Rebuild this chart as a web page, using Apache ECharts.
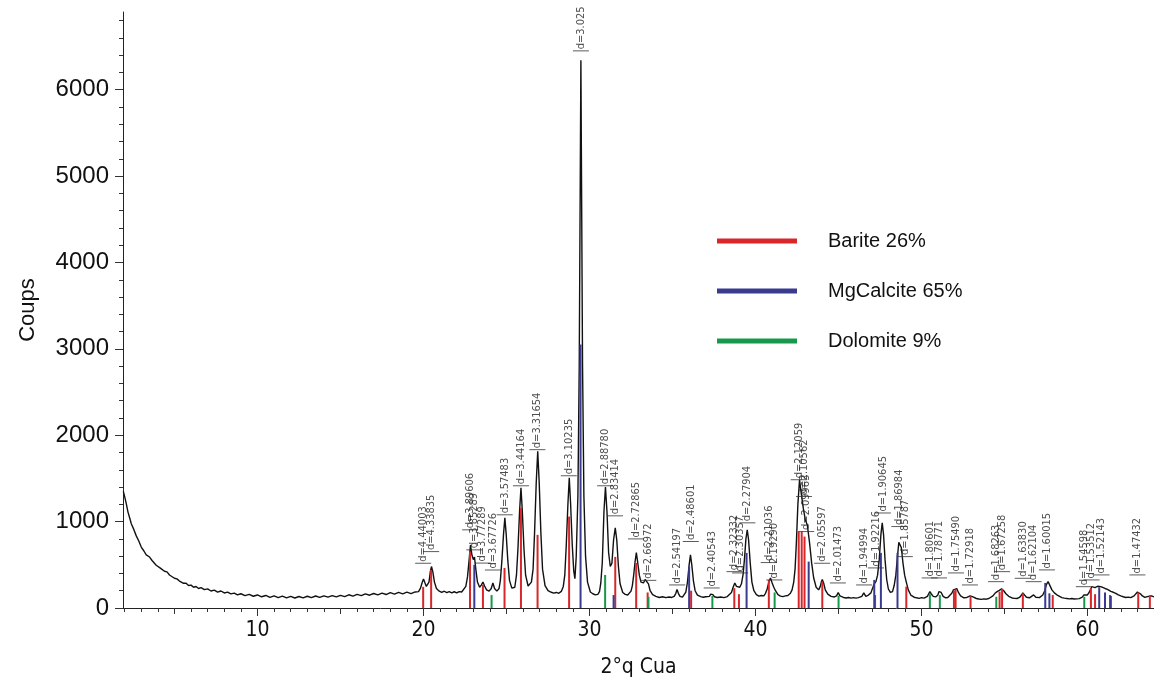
<!DOCTYPE html>
<html>
<head>
<meta charset="utf-8">
<script src="https://cdn.jsdelivr.net/npm/echarts@6/dist/echarts.min.js"></script>
<style>html,body{margin:0;padding:0;background:#fff}#c{width:1154px;height:686px}</style>
</head>
<body>
<div id="c"></div>
<script>
// measured pattern: [2theta, counts]
const profile = [
 [1.92,1350],[2.0,1290],[2.1,1205],[2.2,1110],[2.3,1045],[2.4,975],[2.55,910],[2.7,835],[2.85,775],[3.0,705],[3.16,660],[3.3,615],[3.5,590],[3.65,550],[3.75,530],[3.9,495],[4.0,492],[4.15,462],[4.25,455],[4.4,425],[4.55,418],[4.7,382],[4.8,383],[5.0,344],[5.15,337],[5.3,312],[5.4,308],[5.55,286],[5.7,287],[5.85,260],[6.0,265],[6.15,240],[6.3,249],[6.45,226],[6.6,236],[6.8,212],[7.0,221],[7.2,197],[7.4,207],[7.6,184],[7.8,197],[8.0,174],[8.2,183],[8.4,164],[8.6,173],[8.8,152],[9.0,165],[9.25,144],[9.5,157],[9.75,136],[10.0,151],[10.25,130],[10.5,145],[10.75,124],[11.0,141],[11.25,121],[11.5,137],[11.75,118],[12.0,135],[12.25,116],[12.5,133],[12.75,118],[13.0,136],[13.25,120],[13.5,139],[13.75,122],[14.0,141],[14.25,125],[14.5,144],[14.75,128],[15.0,147],[15.25,132],[15.5,153],[15.75,137],[16.0,157],[16.25,143],[16.5,163],[16.75,148],[17.0,168],[17.25,152],[17.5,172],[17.75,156],[18.0,177],[18.25,160],[18.5,180],[18.75,164],[19.0,183],[19.25,166],[19.5,186],[19.6,176],
 [19.7,190],[19.82,230],[19.92,295],[20.0,336],[20.08,295],[20.17,250],[20.25,245],[20.33,300],[20.41,420],[20.48,480],[20.56,420],[20.66,300],[20.78,225],[20.95,195],
 [21.1,180],[21.25,194],[21.4,178],[21.55,190],[21.7,176],[21.85,188],[22.0,175],[22.15,190],[22.3,185],
 [22.4,200],[22.55,250],[22.65,360],[22.75,560],[22.83,730],[22.92,610],[23.0,560],[23.07,590],[23.15,450],[23.25,300],[23.38,240],
 [23.48,265],[23.58,300],[23.68,255],[23.8,210],[23.95,195],
 [24.08,225],[24.18,290],[24.28,225],[24.42,195],
 [24.55,225],[24.63,320],[24.72,545],[24.82,855],[24.9,1044],[24.98,855],[25.08,545],[25.18,320],[25.32,230],
 [25.5,240],[25.6,380],[25.69,690],[25.79,1130],[25.87,1392],[25.95,1130],[26.05,690],[26.15,380],[26.3,255],[26.42,250],
 [26.5,300],[26.6,450],[26.69,870],[26.79,1450],[26.88,1813],[26.97,1450],[27.07,870],[27.17,450],[27.32,260],[27.5,200],[27.7,182],[27.85,172],[28.0,180],[28.15,170],[28.3,192],
 [28.42,250],[28.51,380],[28.6,730],[28.7,1210],[28.78,1508],[28.86,1210],[28.96,730],[29.05,430],[29.12,340],
 [29.2,600],[29.3,1300],[29.38,2800],[29.44,4900],[29.48,6340],[29.52,4900],[29.58,2800],[29.66,1300],[29.76,600],[29.88,300],[30.05,185],[30.2,165],[30.35,152],[30.5,158],
 [30.6,190],[30.68,290],[30.77,530],[30.87,1120],[30.96,1400],[31.05,1120],[31.15,640],[31.25,480],
 [31.35,520],[31.45,790],[31.55,928],[31.64,790],[31.74,480],[31.84,280],[32.0,180],[32.15,158],[32.3,150],[32.42,160],
 [32.5,195],[32.58,260],[32.66,380],[32.74,530],[32.82,640],[32.9,530],[33.0,380],[33.1,300],
 [33.25,290],[33.35,330],[33.45,340],[33.55,280],[33.65,200],[33.8,155],[34.0,135],[34.2,122],[34.4,130],[34.6,120],[34.8,128],[34.95,122],
 [35.1,135],[35.2,170],[35.27,215],[35.35,170],[35.45,135],[35.6,126],
 [35.72,145],[35.8,185],[35.9,300],[36.0,500],[36.08,615],[36.16,500],[36.26,310],[36.36,200],[36.5,150],[36.7,132],[36.85,124],[37.0,130],[37.12,122],
 [37.22,135],[37.3,160],[37.36,178],[37.43,155],[37.52,130],[37.7,122],[37.9,128],[38.1,120],[38.3,132],[38.42,145],
 [38.55,180],[38.65,240],[38.75,290],[38.85,250],[38.95,235],[39.05,240],[39.15,280],
 [39.25,390],[39.33,560],[39.42,800],[39.5,905],[39.58,790],[39.68,520],[39.78,300],[39.9,200],[40.05,155],[40.2,138],[40.35,145],[40.5,140],
 [40.6,170],[40.7,220],[40.8,300],[40.9,348],[41.0,290],[41.1,240],[41.2,200],[41.35,155],[41.5,138],[41.65,132],[41.8,140],[41.95,145],[42.1,170],
 [42.2,210],[42.3,300],[42.38,450],[42.46,760],[42.55,1200],[42.65,1485],[42.75,1330],[42.88,1150],[43.0,1020],[43.12,960],[43.25,760],[43.38,520],[43.5,350],[43.65,240],[43.8,210],
 [43.9,250],[43.96,300],[44.02,330],[44.1,290],[44.2,210],[44.35,160],[44.55,135],[44.75,128],
 [44.88,140],[44.98,180],[45.08,140],[45.3,122],[45.45,116],[45.6,122],[45.75,114],[45.9,120],[46.05,115],[46.2,120],
 [46.4,135],[46.52,175],[46.64,135],[46.8,150],[46.95,175],
 [47.05,230],[47.15,280],[47.25,305],[47.35,380],[47.45,560],[47.55,850],[47.63,986],[47.71,850],[47.8,560],[47.9,330],[48.0,220],[48.12,180],[48.25,190],
 [48.35,260],[48.45,380],[48.55,600],[48.63,760],[48.7,770],[48.78,700],[48.88,520],[48.98,380],[49.08,300],[49.2,210],[49.35,150],[49.55,125],[49.7,118],[49.85,112],[50.0,120],[50.15,114],
 [50.35,135],[50.43,165],[50.5,189],[50.58,165],[50.7,135],[50.85,128],
 [50.98,150],[51.05,190],[51.1,209],[51.18,180],[51.3,135],[51.45,118],[51.58,122],
 [51.7,130],[51.82,170],[51.92,210],[52.02,232],[52.12,225],[52.22,180],[52.35,140],[52.55,118],[52.7,120],
 [52.82,124],[52.92,140],[53.0,145],[53.1,128],[53.3,110],[53.45,104],[53.6,100],[53.75,106],[53.9,102],[54.05,110],[54.15,115],
 [54.3,140],[54.42,170],[54.55,190],[54.68,205],[54.82,222],[54.95,200],[55.08,165],[55.25,135],[55.45,116],[55.6,112],[55.75,110],
 [55.9,122],[56.02,150],[56.1,175],[56.2,150],[56.32,125],[56.5,118],
 [56.62,128],[56.75,152],[56.88,125],[57.0,118],[57.1,120],[57.2,132],
 [57.3,150],[57.42,200],[57.52,270],[57.62,305],[57.72,265],[57.85,210],[58.0,175],[58.2,145],[58.45,120],[58.6,114],[58.75,110],[58.9,106],[59.05,110],[59.2,104],[59.35,106],[59.5,108],[59.6,112],
 [59.68,125],[59.77,150],[59.86,130],[59.98,150],
 [60.1,182],[60.25,247],[60.35,228],[60.45,235],[60.6,252],[60.7,267],[60.8,248],[60.9,255],[61.05,226],[61.2,215],[61.4,192],[61.55,182],[61.7,170],[61.85,152],[62.0,140],[62.15,130],[62.3,122],[62.45,126],[62.6,120],[62.7,128],
 [62.8,140],[62.9,160],[63.0,185],[63.08,189],[63.18,165],[63.3,140],[63.45,122],[63.6,132],[63.72,152],[63.85,140],[64.0,128]
];

// reference sticks: [2theta, counts]
const barite = [
 [19.98,245],[20.46,440],[22.80,653],[23.58,268],[24.88,464],[25.87,1160],[26.87,847],[28.77,1059],
 [31.55,592],[32.81,522],[33.50,180],[36.12,200],[38.72,230],[39.00,160],[40.80,325],
 [42.60,885],[42.78,885],[42.95,827],[44.02,305],[47.20,150],[49.08,247],
 [51.95,200],[52.05,215],[52.95,135],[54.70,190],[54.85,220],[56.10,170],[57.90,150],
 [60.20,230],[60.45,160],[61.35,150],[63.05,180],[63.75,150]
];
const mgCalcite = [
 [23.06,500],[29.46,3050],[31.45,150],[36.00,480],[39.46,638],[43.20,537],
 [47.15,325],[47.55,638],[48.55,638],[57.45,290],[57.70,170],[60.70,240],[61.05,180],[61.40,140]
];
const dolomite = [
 [24.10,150],[30.94,383],[33.55,130],[37.40,140],[41.15,180],[45.00,140],
 [50.50,160],[51.10,150],[54.50,130],[59.80,130]
];

// peak labels
const peakD = ['4.44003','4.33835','3.89606','3.85289','3.77289','3.67726','3.57483','3.44164','3.31654','3.10235','3.025',
 '2.88780','2.83414','2.72865','2.66972','2.54197','2.48601','2.40543','2.32332','2.30357','2.27904','2.21036','2.19290',
 '2.12059','2.10562','2.09963','2.05597','2.01473','1.94994','1.92216','1.90645','1.86984','1.85787','1.80601','1.78771',
 '1.75490','1.72918','1.68263','1.67258','1.63830','1.62104','1.60015','1.54598','1.53512','1.52143','1.47432'];
const peakPos = [19.98,20.46,22.81,23.06,23.56,24.18,24.89,25.87,26.86,28.75,29.48,
 30.94,31.54,32.80,33.54,35.28,36.10,37.36,38.73,39.07,39.51,40.79,41.13,
 42.60,42.92,43.05,44.01,44.96,46.54,47.25,47.67,48.66,48.99,50.49,51.05,
 52.07,52.91,54.49,54.85,56.09,56.75,57.55,59.77,60.24,60.84,63.00];
const peakLabelY = [518,653,905,673,520,440,1079,1415,1833,1531,6450,
 1415,1067,800,320,267,770,232,421,406,986,526,325,
 1485,1291,885,518,290,267,464,1100,943,595,348,348,
 406,267,305,421,344,305,441,247,325,383,383];

const xTickLabels = [10,20,30,40,50,60];
const yTickLabels = [0,1000,2000,3000,4000,5000,6000];

const xMinor = []; for (let v = 2; v <= 64; v++) xMinor.push(v);
const xMid = []; for (let v = 5; v <= 60; v += 5) xMid.push(v);
const yMinor = []; for (let v = 0; v <= 6800; v += 200) yMinor.push(v);

const labelData = peakD.map((d, i) => ({ value: [peakPos[i], peakLabelY[i]], name: 'd=' + d }));

const narrow = "'Liberation Sans Narrow','Arial Narrow','DejaVu Sans Condensed',sans-serif";
const sans = "'Liberation Sans',Arial,sans-serif";

function xAx(ticks, len, labels, line) {
  return {
    type: 'value', min: 1.9, max: 64, position: 'bottom',
    axisLine: { show: line, onZero: false, lineStyle: { color: '#222', width: 1 } },
    axisTick: { show: true, customValues: ticks, length: len, inside: false, lineStyle: { color: '#333', width: 1 } },
    axisLabel: labels ? { show: true, customValues: labels, formatter: v => String(v), fontFamily: narrow, fontSize: 21, color: '#111', margin: 12 } : { show: false },
    splitLine: { show: false },
    name: line ? '2°q Cua' : '', nameLocation: 'middle', nameGap: 49,
    nameTextStyle: { fontFamily: narrow, fontSize: 21, color: '#111' }
  };
}
function yAx(ticks, len, labels, line) {
  return {
    type: 'value', min: 0, max: 6900, position: 'left',
    axisLine: { show: line, onZero: false, lineStyle: { color: '#222', width: 1 } },
    axisTick: { show: true, customValues: ticks, length: len, lineStyle: { color: '#333', width: 1 } },
    axisLabel: labels ? { show: true, customValues: labels, formatter: v => String(v), fontFamily: sans, fontSize: 24, color: '#111', margin: 14 } : { show: false },
    splitLine: { show: false },
    name: line ? 'Coups' : '', nameLocation: 'middle', nameGap: 84, nameRotate: 90,
    nameTextStyle: { fontFamily: sans, fontSize: 22, color: '#111' }
  };
}

const chart = echarts.init(document.getElementById('c'), null, { renderer: 'canvas' });
chart.setOption({
  animation: false,
  backgroundColor: '#fff',
  grid: { left: 123, right: 0, top: 12, bottom: 78, containLabel: false, outerBoundsMode: 'none' },
  xAxis: [xAx(xMinor, 4, null, true), xAx(xMid, 6, null, false), xAx(xTickLabels, 8, xTickLabels, false)],
  yAxis: [yAx(yMinor, 4, null, true), yAx(yTickLabels, 8, yTickLabels, false)],
  legend: {
    orient: 'vertical', left: 712, top: 224, itemWidth: 80, itemHeight: 5, itemGap: 26,
    icon: 'rect',
    textStyle: { fontFamily: sans, fontSize: 20, color: '#111', lineHeight: 24, padding: [0, 0, 0, 26] },
    data: ['Barite 26%', 'MgCalcite 65%', 'Dolomite 9%']
  },
  series: [
    { type: 'line', name: 'profile', data: profile, symbol: 'none', z: 3,
      lineStyle: { color: '#111', width: 1.4 }, silent: true },
    { type: 'bar', name: 'Barite 26%', data: barite, barWidth: 2, barGap: '-100%', z: 4,
      itemStyle: { color: '#d8262b' } },
    { type: 'bar', name: 'MgCalcite 65%', data: mgCalcite, barWidth: 2, barGap: '-100%', z: 4,
      itemStyle: { color: '#3a3a8e' } },
    { type: 'bar', name: 'Dolomite 9%', data: dolomite, barWidth: 2, barGap: '-100%', z: 4,
      itemStyle: { color: '#16994a' } },
    { type: 'scatter', name: 'labels', data: labelData, symbol: 'rect', symbolSize: [16, 1], z: 5,
      itemStyle: { color: '#333' },
      label: { show: true, formatter: '{b}', position: 'top', distance: 1, rotate: 90,
        align: 'left', verticalAlign: 'middle', fontFamily: narrow, fontSize: 11, color: '#222' } }
  ]
});
</script>
</body>
</html>
